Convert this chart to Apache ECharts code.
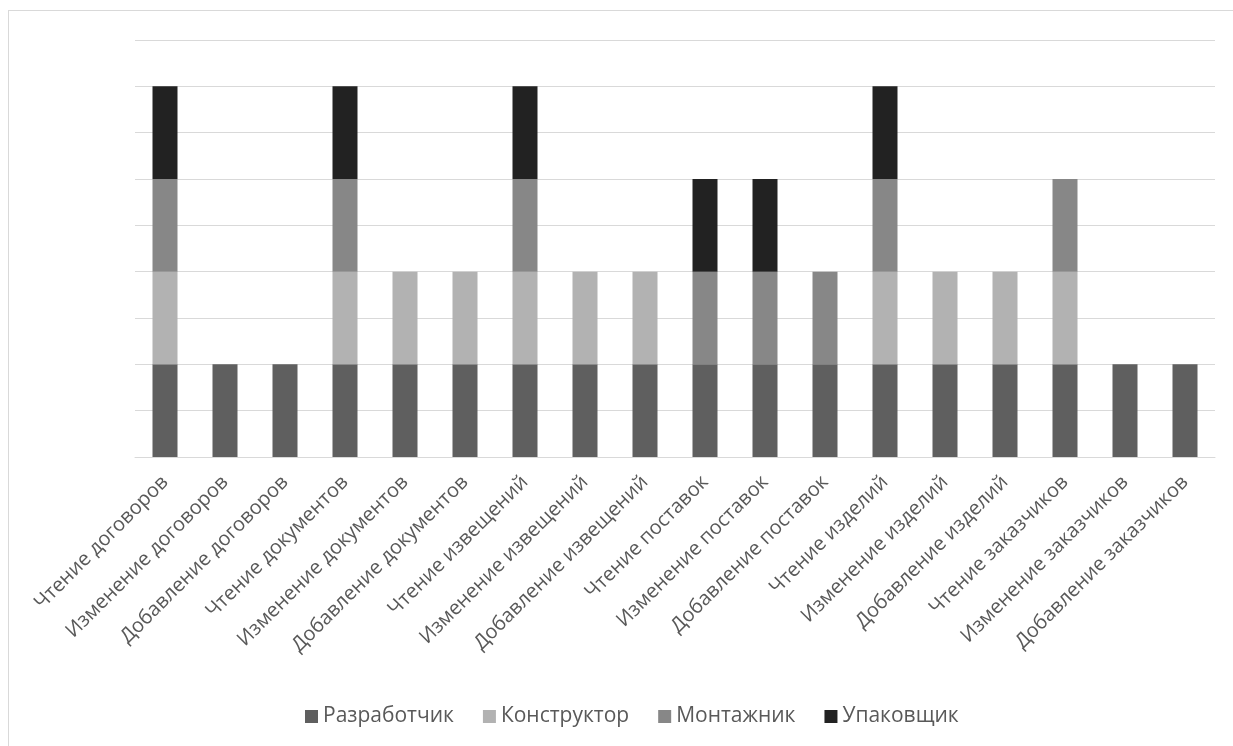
<!DOCTYPE html>
<html>
<head>
<meta charset="utf-8">
<script src="https://cdn.jsdelivr.net/npm/echarts@6/dist/echarts.min.js"></script>
<style>
  html, body { margin: 0; padding: 0; background: #fff; }
  #frame { position: absolute; left: 8px; top: 10px; width: 1240px; height: 760px; border: 1px solid #d9d9d9; box-sizing: border-box; }
  #chart { position: absolute; left: 0; top: 0; width: 1233px; height: 746px; }
</style>
</head>
<body>
<div id="frame"></div>
<div id="chart"></div>
<script>
const categories = [
  'Чтение договоров', 'Изменение договоров', 'Добавление договоров',
  'Чтение документов', 'Изменение документов', 'Добавление документов',
  'Чтение извещений', 'Изменение извещений', 'Добавление извещений',
  'Чтение поставок', 'Изменение поставок', 'Добавление поставок',
  'Чтение изделий', 'Изменение изделий', 'Добавление изделий',
  'Чтение заказчиков', 'Изменение заказчиков', 'Добавление заказчиков'
];
const developer   = [1,1,1, 1,1,1, 1,1,1, 1,1,1, 1,1,1, 1,1,1];
const designer    = [1,0,0, 1,1,1, 1,1,1, 0,0,0, 1,1,1, 1,0,0];
const assembler   = [1,0,0, 1,0,0, 1,0,0, 1,1,1, 1,0,0, 1,0,0];
const packer      = [1,0,0, 1,0,0, 1,0,0, 1,1,0, 1,0,0, 0,0,0];
const seriesNames = ['Разработчик', 'Конструктор', 'Монтажник', 'Упаковщик'];
const seriesColors = ['#5f5f5f', '#b2b2b2', '#878787', '#222222'];

const chart = echarts.init(document.getElementById('chart'));
const font = "'Open Sans', 'Noto Sans', sans-serif";
const seriesData = [developer, designer, assembler, packer];

chart.setOption({
  animation: false,
  textStyle: { fontFamily: font },
  grid: { left: 135, right: 18, top: 40, bottom: 289 },
  legend: {
    top: 701,
    left: 300,
    itemWidth: 13,
    itemHeight: 13,
    itemGap: 29,
    icon: 'rect',
    textStyle: { color: '#595959', fontSize: 21, fontFamily: font },
    data: seriesNames
  },
  xAxis: {
    type: 'category',
    data: categories,
    axisLine: { show: true, lineStyle: { color: '#d9d9d9', width: 1 } },
    axisTick: { show: false },
    axisLabel: { rotate: 45, interval: 0, color: '#595959', fontSize: 20, margin: 22, fontFamily: font }
  },
  yAxis: {
    type: 'value',
    min: 0,
    max: 4.5,
    interval: 0.5,
    axisLabel: { show: false },
    axisLine: { show: false },
    axisTick: { show: false },
    splitLine: { lineStyle: { color: '#d9d9d9', width: 1 } }
  },
  series: seriesNames.map((name, i) => ({
    name,
    type: 'bar',
    stack: 'roles',
    barWidth: 25,
    itemStyle: { color: seriesColors[i] },
    data: seriesData[i].map(v => v === 0 ? null : v)
  }))
});
</script>
</body>
</html>
